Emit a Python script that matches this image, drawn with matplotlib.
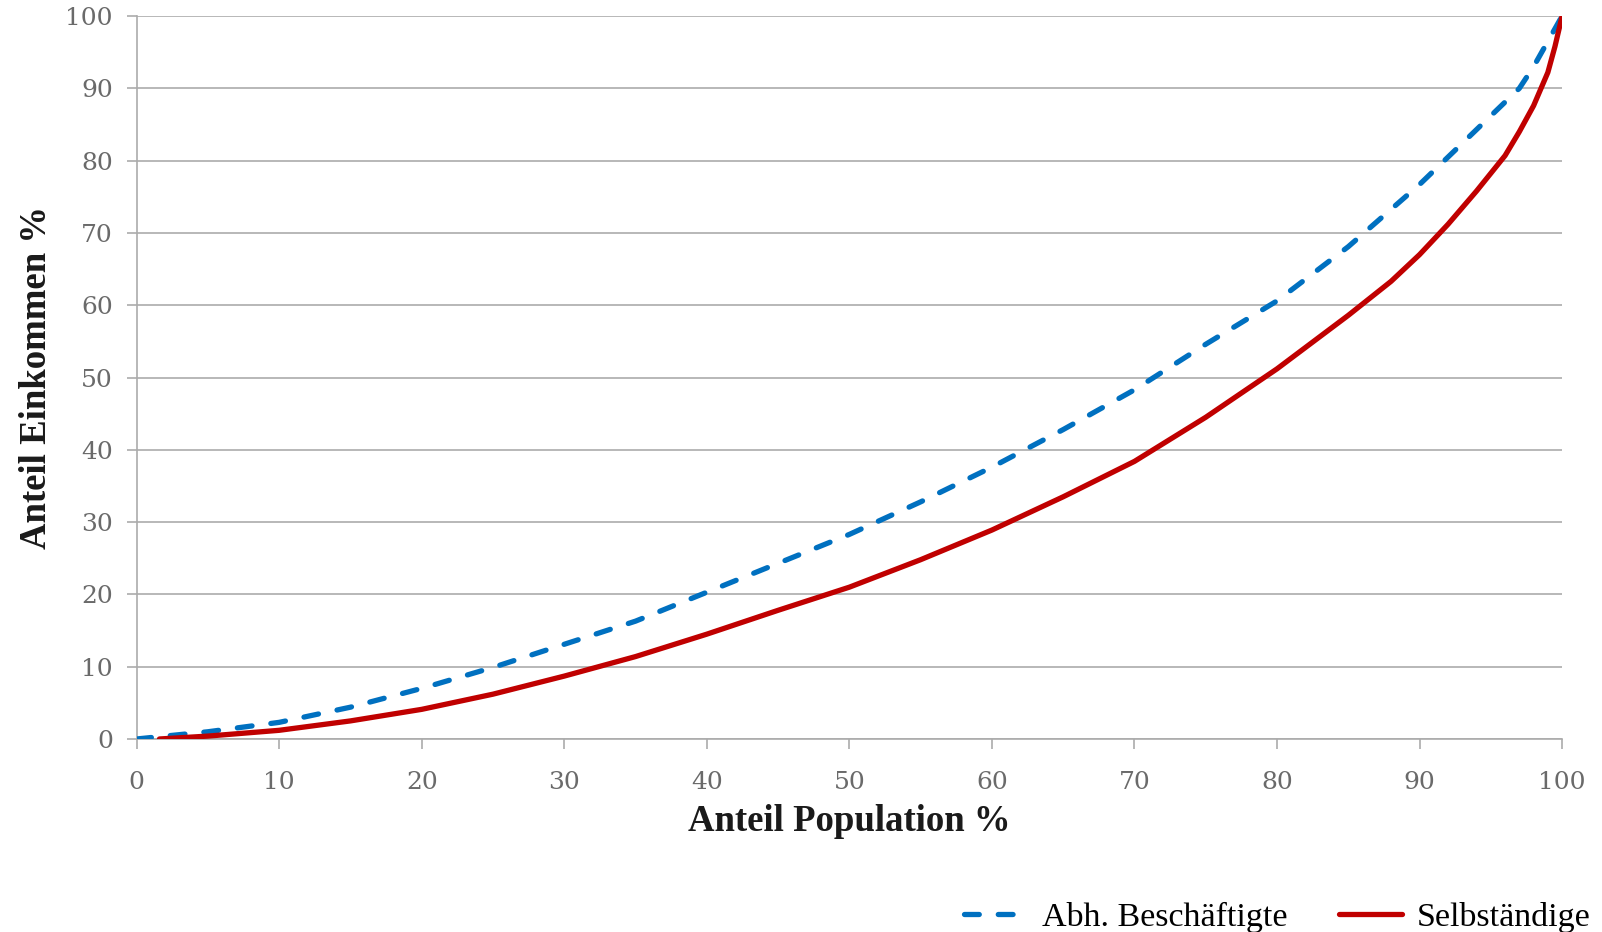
import matplotlib
matplotlib.use("Agg")
import matplotlib.pyplot as plt

# Lorenz curve data
pop_abh = [0, 5, 10, 15, 20, 25, 30, 35, 40, 45, 50, 55, 60, 65, 70, 75, 80, 85, 90, 95, 97, 98, 99, 100]
inc_abh = [0, 1.0, 2.3, 4.4, 7.0, 9.9, 13.1, 16.3, 20.3, 24.3, 28.3, 32.8, 37.6, 42.8, 48.3, 54.6, 60.6, 68.1, 76.7, 86.2, 90.0, 93.0, 96.5, 100]

pop_selb = [1.6, 5, 10, 15, 20, 25, 30, 35, 40, 45, 50, 55, 60, 65, 70, 75, 80, 85, 88, 90, 92, 94, 96, 97, 98, 99, 99.5, 100]
inc_selb = [0, 0.4, 1.2, 2.5, 4.1, 6.2, 8.7, 11.4, 14.5, 17.8, 21.0, 24.8, 28.9, 33.5, 38.4, 44.5, 51.2, 58.6, 63.3, 67.0, 71.2, 75.8, 80.7, 84.0, 87.6, 92.2, 95.8, 100]

x_ticks = [0, 10, 20, 30, 40, 50, 60, 70, 80, 90, 100]
y_ticks = [0, 10, 20, 30, 40, 50, 60, 70, 80, 90, 100]

label_abh = "Abh. Beschäftigte"
label_selb = "Selbständige"
xlabel = "Anteil Population %"
ylabel = "Anteil Einkommen %"

plt.rcParams['font.family'] = ['Liberation Serif', 'DejaVu Serif']

fig = plt.figure(figsize=(16.02, 9.32), dpi=100)
ax = fig.add_axes([0.0853, 0.2071, 0.8898, 0.7757])

grid_c = "#ABABAB"
ax.plot(pop_abh, inc_abh, color="#0070C0", lw=3.8, linestyle=(0, (2.8, 3.6)),
        dash_capstyle='round', label=label_abh, zorder=3)
ax.plot(pop_selb, inc_selb, color="#C00000", lw=3.8, solid_capstyle='round',
        solid_joinstyle='round', label=label_selb, zorder=4)

ax.set_xlim(0, 100)
ax.set_ylim(0, 100)
ax.set_xticks(x_ticks)
ax.set_yticks(y_ticks)
ax.yaxis.grid(True, color=grid_c, lw=1.2)
ax.set_axisbelow(True)
for s in ['top', 'right']:
    ax.spines[s].set_visible(False)
for s in ['left', 'bottom']:
    ax.spines[s].set_color(grid_c)
    ax.spines[s].set_linewidth(1.2)

ax.tick_params(axis='both', direction='out', length=7.2, width=1.2, color=grid_c,
               labelsize=18, labelcolor="#6a6a6a")
for lab in ax.get_xticklabels() + ax.get_yticklabels():
    lab.set_family(['DejaVu Serif'])
ax.tick_params(axis='x', pad=16)
ax.tick_params(axis='y', pad=10)

ax.set_xlabel(xlabel, fontsize=26.5, fontweight='bold', color='#1a1a1a', labelpad=7)
ax.set_ylabel(ylabel, fontsize=26.5, fontweight='bold', color='#1a1a1a', labelpad=8)

leg = fig.legend(loc='center right', bbox_to_anchor=(0.993, 0.016), ncol=2, frameon=False,
                 fontsize=24.5, handlelength=1.85, handletextpad=0.45, columnspacing=1.5,
                 borderaxespad=0, borderpad=0)

fig.savefig("out.png", dpi=100)
